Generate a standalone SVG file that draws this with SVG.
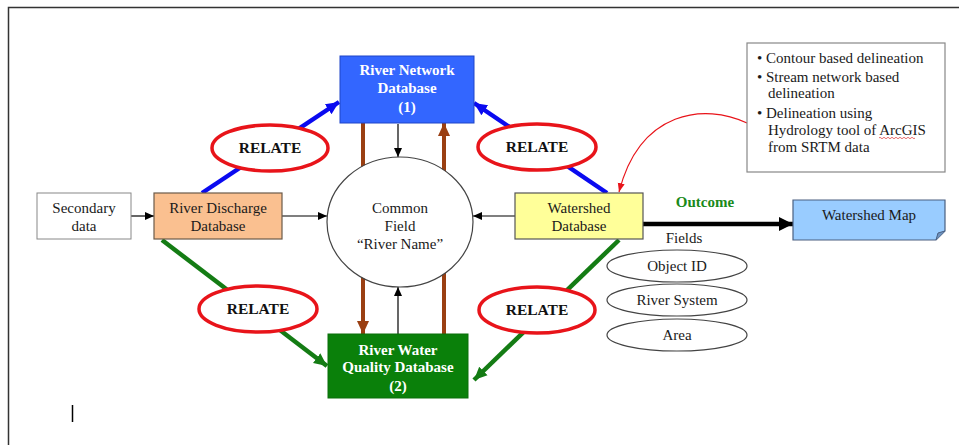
<svg xmlns="http://www.w3.org/2000/svg" width="959" height="445" viewBox="0 0 959 445">
<style>
text{font-family:"Liberation Serif","Times New Roman",serif;font-size:15px;fill:#1a1a1a;text-anchor:middle}
.b{font-weight:bold}
.w{fill:#fff;font-weight:bold}
.rel{font-weight:bold;font-size:15.5px;fill:#111}
.relE{fill:#fff;stroke:#e8141a;stroke-width:3.5}
.thin{stroke:#000;stroke-width:1.2;fill:none}
.brown{stroke:#9a3f12;stroke-width:4;fill:none}
.blue{stroke:#0a0af0;stroke-width:4.5;fill:none}
.green{stroke:#147c14;stroke-width:4.5;fill:none}
.fld{fill:#fff;stroke:#444;stroke-width:1.2}
.info{text-anchor:start}
</style>
<defs>
<marker id="ah" markerUnits="userSpaceOnUse" markerWidth="10" markerHeight="10" refX="9" refY="5" orient="auto"><path d="M0,1 L9,5 L0,9 Z" fill="#000"/></marker>
<marker id="ahBig" markerUnits="userSpaceOnUse" markerWidth="16" markerHeight="16" refX="14" refY="8" orient="auto"><path d="M0,1 L14,8 L0,15 Z" fill="#000"/></marker>
<marker id="ahBrown" markerUnits="userSpaceOnUse" markerWidth="14" markerHeight="14" refX="13" refY="7" orient="auto"><path d="M0,1 L13,7 L0,13 Z" fill="#9a3f12"/></marker>
<marker id="ahBlue" markerUnits="userSpaceOnUse" markerWidth="14" markerHeight="14" refX="13" refY="7" orient="auto"><path d="M0,1 L13,7 L0,13 Z" fill="#0a0af0"/></marker>
<marker id="ahGreen" markerUnits="userSpaceOnUse" markerWidth="14" markerHeight="14" refX="13" refY="7" orient="auto"><path d="M0,1 L13,7 L0,13 Z" fill="#147c14"/></marker>
<marker id="ahRed" markerUnits="userSpaceOnUse" markerWidth="10" markerHeight="10" refX="9" refY="5" orient="auto"><path d="M0,1.5 L9,5 L0,8.5 Z" fill="#e8141a"/></marker>
</defs>
<rect width="959" height="445" fill="#fff"/>
<path d="M8.5,445 L8.5,7.5 L959,7.5" fill="none" stroke="#333" stroke-width="1.5"/>
<line x1="72.5" y1="405" x2="72.5" y2="422" stroke="#000" stroke-width="1.5"/>

<g id="connectors">
<line class="brown" x1="363" y1="123" x2="363" y2="334" marker-end="url(#ahBrown)"/>
<line class="brown" x1="444" y1="334" x2="444" y2="123" marker-end="url(#ahBrown)"/>
<line class="blue" x1="202" y1="193" x2="339" y2="102" marker-end="url(#ahBlue)"/>
<line class="blue" x1="607" y1="193" x2="474" y2="103" marker-end="url(#ahBlue)"/>
<line class="green" x1="162" y1="240" x2="327" y2="366" marker-end="url(#ahGreen)"/>
<line class="green" x1="619" y1="240" x2="474" y2="380" marker-end="url(#ahGreen)"/>
<line class="thin" x1="398" y1="124" x2="398" y2="157" marker-end="url(#ah)"/>
<line class="thin" x1="398" y1="334" x2="398" y2="287" marker-end="url(#ah)"/>
<line class="thin" x1="131" y1="216" x2="154" y2="216" marker-end="url(#ah)"/>
<line class="thin" x1="282" y1="216" x2="327" y2="216" marker-end="url(#ah)"/>
<line class="thin" x1="515" y1="216" x2="473" y2="216" marker-end="url(#ah)"/>
<line x1="643" y1="224" x2="793" y2="224" stroke="#000" stroke-width="4.5" marker-end="url(#ahBig)"/>
<path d="M747,123 C705,103 640,110 619,192" fill="none" stroke="#e8141a" stroke-width="1.2" marker-end="url(#ahRed)"/>
</g>

<g id="relate1"><ellipse class="relE" cx="270" cy="148" rx="58" ry="23"/><text class="rel" x="270" y="153">RELATE</text></g>
<g id="relate2"><ellipse class="relE" cx="537" cy="147" rx="59" ry="23"/><text class="rel" x="537" y="152">RELATE</text></g>
<g id="relate3"><ellipse class="relE" cx="258" cy="309" rx="59" ry="23"/><text class="rel" x="258" y="314">RELATE</text></g>
<g id="relate4"><ellipse class="relE" cx="537" cy="310" rx="58" ry="23"/><text class="rel" x="537" y="315">RELATE</text></g>

<g id="river-network">
<rect x="340" y="56" width="134" height="67" fill="#3366ff" stroke="#1f45c8" stroke-width="1"/>
<text class="w" x="407" y="75">River Network</text>
<text class="w" x="407" y="93">Database</text>
<text class="w" x="407" y="112">(1)</text>
</g>

<g id="common-field">
<ellipse cx="400" cy="222" rx="73" ry="65" fill="#fff" stroke="#444" stroke-width="1.2"/>
<text x="400" y="213">Common</text>
<text x="400" y="231">Field</text>
<text x="400" y="249">“River Name”</text>
</g>

<g id="water-quality">
<rect x="328" y="334" width="140" height="64" fill="#0a800a" stroke="#0a6e0a" stroke-width="1"/>
<text class="w" x="398" y="355">River Water</text>
<text class="w" x="398" y="372">Quality Database</text>
<text class="w" x="398" y="391">(2)</text>
</g>

<g id="secondary">
<rect x="37" y="193" width="94" height="46" fill="#fff" stroke="#888" stroke-width="1"/>
<text x="84" y="213">Secondary</text>
<text x="84" y="231">data</text>
</g>

<g id="discharge">
<rect x="154" y="193" width="128" height="46" fill="#fac090" stroke="#6b5a4a" stroke-width="1.2"/>
<text x="218" y="213">River Discharge</text>
<text x="218" y="231">Database</text>
</g>

<g id="watershed">
<rect x="515" y="193" width="128" height="46" fill="#ffff99" stroke="#555" stroke-width="1.2"/>
<text x="579" y="213">Watershed</text>
<text x="579" y="231">Database</text>
</g>

<text class="b" x="705" y="207" style="fill:#1a8a1a">Outcome</text>
<text x="684" y="243">Fields</text>

<g id="object-id"><ellipse class="fld" cx="677" cy="266" rx="70" ry="16"/><text x="677" y="271">Object ID</text></g>
<g id="river-system"><ellipse class="fld" cx="677" cy="300" rx="70" ry="16"/><text x="677" y="305">River System</text></g>
<g id="area"><ellipse class="fld" cx="677" cy="335" rx="70" ry="16"/><text x="677" y="340">Area</text></g>

<g id="watershed-map">
<path d="M793,200 L945,200 L945,231 L936,240 L793,240 Z" fill="#99ccff" stroke="#4a5f80" stroke-width="1.2"/>
<path d="M936,240 L938,233 L945,231" fill="#6f93c0" stroke="#4a5f80" stroke-width="1"/>
<text x="869" y="220">Watershed Map</text>
</g>

<g id="info">
<rect x="747" y="43" width="198" height="129" fill="#fff" stroke="#888" stroke-width="1.2"/>
<text class="info" x="757" y="63">• Contour based delineation</text>
<text class="info" x="757" y="82">•  Stream network based</text>
<text class="info" x="768" y="98">delineation</text>
<text class="info" x="757" y="118">• Delineation using</text>
<text class="info" x="768" y="135">Hydrology tool of ArcGIS</text>
<text class="info" x="768" y="152">from SRTM data</text>
<path d="M879,138 q1,-1.5 2,0 t2,0 t2,0 t2,0 t2,0 t2,0 t2,0 t2,0 t2,0 t2,0 t2,0 t2,0 t2,0 t2,0 t2,0 t2,0 t2,0 t2,0" fill="none" stroke="#e03030" stroke-width="0.7"/>
</g>
</svg>
